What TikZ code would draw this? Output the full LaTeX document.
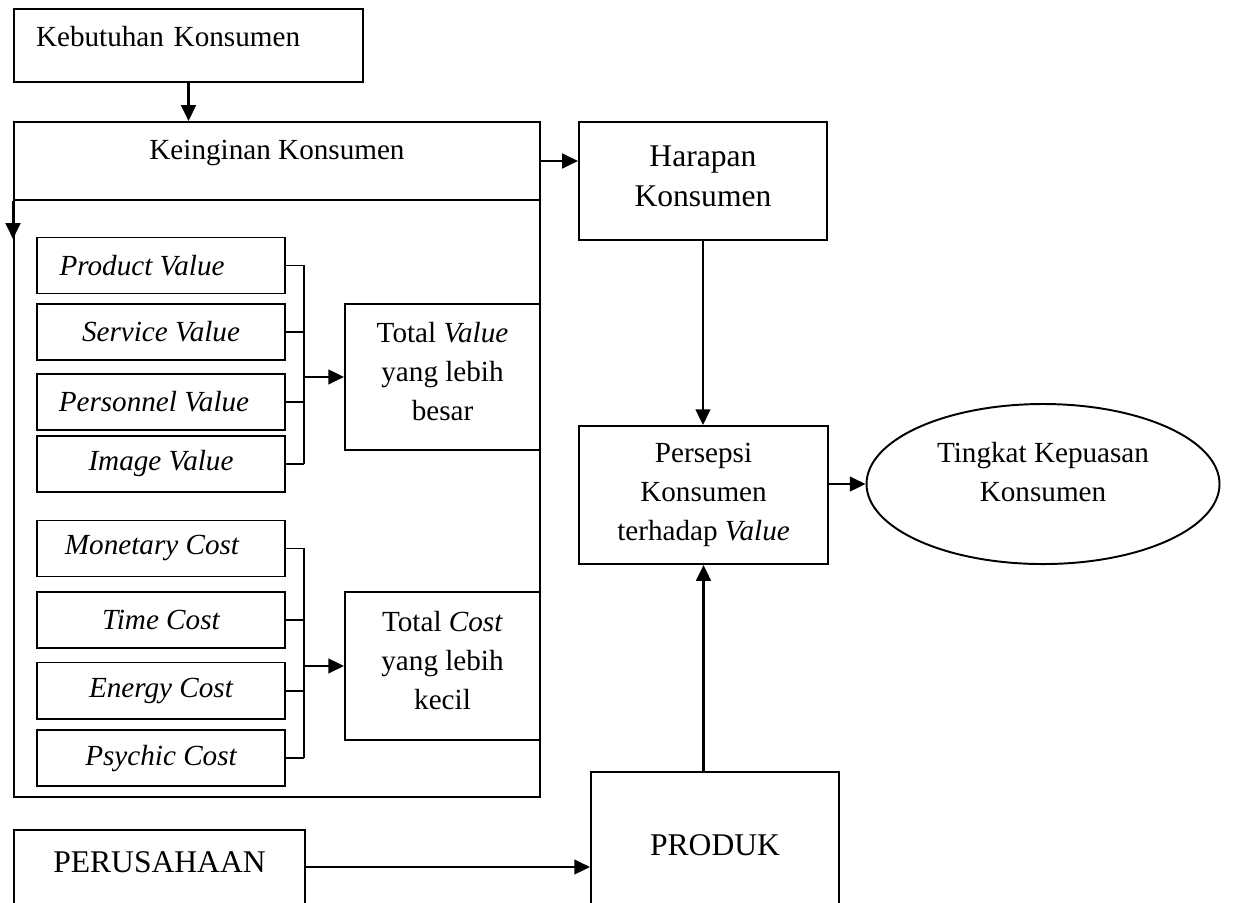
\documentclass[tikz,border=0pt]{standalone}
\usepackage{fontspec}
\setmainfont{Liberation Serif}
\usetikzlibrary{positioning,shapes.geometric,arrows.meta}

\tikzset{
  kotak/.style={draw, line width=0.8pt, inner sep=0pt, align=center, font=\fontsize{12}{16}\selectfont},
  besar/.style={font=\fontsize{13}{16.5}\selectfont},
  miring/.style={font=\fontsize{12}{16}\selectfont\itshape},
  panah/.style={-{Triangle[length=6.5pt,width=6pt]}, line width=1.1pt},
  garis/.style={line width=0.8pt},
}

\begin{document}
\begin{tikzpicture}
	\useasboundingbox (0,0) rectangle (17.858,-13.043);
	\clip (0,0) rectangle (17.858,-13.043);
	% kebutuhan, keinginan
	\node [kotak, minimum width=5.047cm, minimum height=1.056cm, text width=4.41cm, align=left, text height=8pt, text depth=6.8pt] (kebutuhan) at (2.726,-0.658) {Kebutuhan Konsumen};
	\node [kotak, minimum width=7.606cm, minimum height=1.128cm, text height=8pt, text depth=9.4pt] (keinginan) at (4.005,-2.328) {Keinginan Konsumen};
	\node [kotak, minimum width=7.606cm, minimum height=8.633cm] (wadah) at (4.005,-7.208) {};
	% value dan cost
	\foreach \nama/\teks/\y/\geser in {product/Product Value/-3.839/15.6pt, service/Service Value/-4.801/0pt, personnel/Personnel Value/-5.813/5.8pt, image/Image Value/-6.709/0pt, monetary/Monetary Cost/-7.931/7.4pt, time/Time Cost/-8.965/0pt, energy/Energy Cost/-9.985/0pt, psychic/Psychic Cost/-10.961/0pt}
		\node [kotak, miring, minimum width=3.586cm, minimum height=0.810cm] (\nama) at (2.328,\y) {\teks\kern\geser};
	\node [kotak, minimum width=2.820cm, minimum height=2.111cm, text depth=4.4pt] (totalvalue) at (6.399,-5.451) {Total \textit{Value}\\yang lebih\\besar};
	\node [kotak, minimum width=2.820cm, minimum height=2.140cm, text depth=4.8pt] (totalcost) at (6.399,-9.630) {Total \textit{Cost}\\yang lebih\\kecil};
	% kanan
	\node [kotak, besar, minimum width=3.586cm, minimum height=1.706cm, text depth=4pt] (harapan) at (10.165,-2.617) {Harapan\\Konsumen};
	\node [kotak, minimum width=3.601cm, minimum height=1.995cm] (persepsi) at (10.173,-7.158) {Persepsi\\Konsumen\\terhadap \textit{Value}};
	\node [kotak, ellipse, minimum width=5.104cm, minimum height=2.314cm, text depth=9.8pt] (kepuasan) at (15.082,-6.999) {Tingkat Kepuasan\\Konsumen};
	\node [kotak, besar, minimum width=3.586cm, minimum height=2.111cm] (produk) at (10.339,-12.219) {PRODUK};
	\node [kotak, besar, minimum width=4.208cm, minimum height=1.070cm, text height=8.6pt, text depth=4.1pt] (perusahaan) at (2.306,-12.537) {PERUSAHAAN};
	% kurung
	\coordinate (gabungvalue) at ([xshift=-0.578cm]totalvalue.west);
	\coordinate (gabungcost) at ([xshift=-0.578cm]totalcost.west);
	\foreach \nama in {product,service,personnel,image}
		\draw [garis] (\nama.east) -- (\nama.east -| gabungvalue);
	\foreach \nama in {monetary,time,energy,psychic}
		\draw [garis] (\nama.east) -- (\nama.east -| gabungcost);
	\draw [garis] (product.east -| gabungvalue) -- (image.east -| gabungvalue);
	\draw [garis] (monetary.east -| gabungcost) -- (psychic.east -| gabungcost);
	\draw [panah] (gabungvalue) -- (totalvalue.west);
	\draw [panah] (gabungcost) -- (totalcost.west);
	% panah
	\coordinate (masuk) at ([yshift=-0.55cm]keinginan.south west);
	\draw [panah] (kebutuhan.south) -- (kebutuhan.south |- keinginan.north);
	\draw [panah] (keinginan.south west) -- (masuk);
	\draw [panah] (keinginan.east) -- (keinginan.east -| harapan.west);
	\draw [panah] (harapan.south) -- (harapan.south |- persepsi.north);
	\draw [panah] (produk.north -| persepsi.south) -- (persepsi.south);
	\draw [panah] (persepsi.east |- kepuasan.west) -- (kepuasan.west);
	\draw [panah] (perusahaan.east) -- (perusahaan.east -| produk.west);
\end{tikzpicture}
\end{document}
